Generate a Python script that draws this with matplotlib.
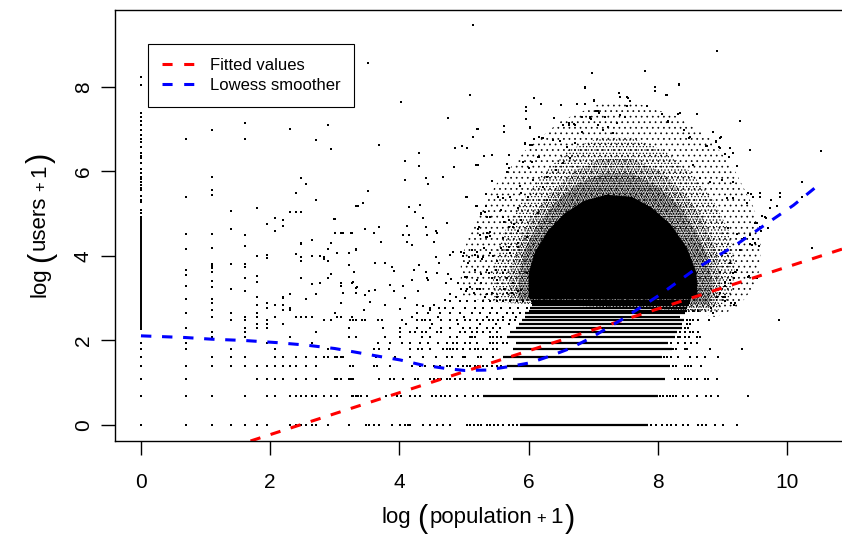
import matplotlib.pyplot as plt
import matplotlib.transforms as mtransforms
import numpy as np
from matplotlib.lines import Line2D

plt.rcParams['font.family'] = ['Liberation Sans', 'DejaVu Sans']
plt.rcParams['hatch.linewidth'] = 0.5

# x = log(population + 1), y = log(users + 1)

# dense runs of points along the lowest users levels
streak_users = list(range(21))
streak_start = [5.87, 5.30, 5.76, 5.66, 5.61, 5.76, 5.80, 5.66, 5.72, 5.80, 5.85,
                5.90, 5.95, 5.95, 6.00, 6.02, 6.05, 6.05, 6.05, 6.02, 6.00]
streak_end = [7.85, 8.00, 8.11, 8.19, 8.06, 8.22, 8.16, 8.27, 8.30, 8.37, 8.38,
              8.40, 8.35, 8.42, 8.45, 8.45, 8.48, 8.50, 8.50, 8.52, 8.55]

# outlines of the cloud, from the saturated core out to the sparse edge
core_x = [6.00, 6.00, 6.10, 6.30, 6.55, 6.85, 7.20, 7.60, 7.90, 8.20, 8.45, 8.60, 8.62]
core_y = [3.00, 3.60, 4.10, 4.60, 5.00, 5.30, 5.45, 5.40, 5.15, 4.75, 4.20, 3.60, 3.00]
ring1_x = [5.85, 5.85, 5.95, 6.15, 6.40, 6.75, 7.15, 7.60, 8.00, 8.35, 8.60, 8.78, 8.85, 8.80]
ring1_y = [2.95, 3.60, 4.20, 4.75, 5.25, 5.70, 5.95, 5.95, 5.65, 5.15, 4.55, 3.95, 3.35, 2.85]
ring2_x = [5.70, 5.70, 5.85, 6.05, 6.35, 6.70, 7.10, 7.60, 8.05, 8.40, 8.70, 8.90, 8.98, 8.92, 8.70]
ring2_y = [2.90, 3.60, 4.30, 4.95, 5.50, 6.00, 6.30, 6.30, 6.00, 5.50, 4.90, 4.20, 3.50, 2.85, 2.70]
ring3_x = [5.45, 5.45, 5.60, 5.85, 6.20, 6.60, 7.10, 7.60, 8.10, 8.50, 8.85, 9.10, 9.20, 9.15, 8.90, 8.60]
ring3_y = [2.90, 3.70, 4.50, 5.20, 5.90, 6.50, 6.80, 6.80, 6.50, 6.00, 5.35, 4.60, 3.80, 3.10, 2.65, 2.70]
ring4_x = [4.95, 4.95, 5.15, 5.50, 5.95, 6.50, 7.10, 7.70, 8.30, 8.80, 9.20, 9.50, 9.60, 9.55, 9.25, 8.90, 8.60]
ring4_y = [3.00, 3.90, 4.80, 5.70, 6.50, 7.20, 7.60, 7.60, 7.30, 6.80, 6.00, 5.10, 4.20, 3.40, 2.80, 2.55, 2.65]

# population = 0 column
col0_y = [8.24, 8.05, 7.38, 7.30, 7.20, 7.10, 6.97, 6.86, 6.78, 6.70, 6.59, 6.43, 6.37,
          6.31, 6.19, 6.07, 5.97, 5.88, 5.82, 5.74, 5.68, 5.60, 5.55, 5.41, 5.33, 5.27,
          5.09, 5.01, 4.93]
col0_run = [2.25, 4.89]

# small populations: one column of points per value
low_cols_x = [0.69, 1.10, 1.39, 1.61, 1.79, 1.95, 2.08, 2.20, 2.30, 2.40, 2.48, 2.56, 2.64,
              2.71, 2.77, 2.83, 2.89, 2.94, 3.00, 3.04, 3.09, 3.13, 3.22, 3.26, 3.33]
low_cols_y = [
    [6.76, 5.39, 4.52, 4.17, 3.68, 3.55, 3.29, 2.98, 2.64, 2.30, 1.95, 1.79, 1.39, 1.10, 0.69, 0],
    [6.98, 5.88, 5.56, 5.44, 4.52, 4.20, 3.82, 3.77, 3.72, 3.63, 3.40, 3.27, 2.98, 2.89, 2.71,
     2.56, 2.20, 2.08, 1.61, 1.39, 0.69, 0],
    [5.07, 4.65, 3.81, 3.21, 2.64, 2.48, 1.79, 1.61, 1.39, 0],
    [7.14, 6.76, 4.50, 4.24, 3.80, 3.75, 3.47, 3.17, 2.56, 2.48, 2.30, 2.20, 2.08, 1.61, 1.39, 0.69, 0],
    [5.13, 4.01, 3.53, 3.39, 3.04, 2.83, 2.64, 2.56, 2.40, 2.30, 1.39, 1.10, 0],
    [4.76, 4.02, 3.96, 2.89, 2.77, 2.48, 2.40, 2.30, 1.95, 1.39, 1.10, 0.69, 0],
    [4.89, 4.58, 2.83, 2.56, 1.79, 1.61, 1.39, 1.10, 0.69],
    [4.85, 4.71, 3.04, 3.00, 2.83, 2.71, 2.40, 1.61, 1.39, 1.10],
    [7.00, 5.03, 3.09, 2.77, 2.71, 2.08, 1.39, 0.69, 0],
    [5.48, 5.03, 4.05, 2.56, 1.61, 1.39, 1.10, 0.69, 0],
    [5.84, 5.03, 4.31, 4.28, 3.97, 3.89, 3.47, 2.56, 0.69, 0],
    [5.70, 2.98, 2.56, 1.61, 1.39, 1.10, 0.69, 0],
    [4.38, 4.00, 3.33, 2.56, 1.95, 0.69, 0],
    [6.74, 5.33, 3.09, 2.20, 1.61, 1.39, 1.10, 0.69, 0],
    [4.00, 3.37],
    [3.97, 3.93, 2.48, 1.61, 0.69],
    [7.10, 4.16, 3.89, 3.47, 1.79, 1.61, 0],
    [6.54, 4.30, 3.58, 2.48, 0.69],
    [4.88, 4.54, 2.64, 1.61, 1.10],
    [4.06, 2.56, 1.61, 1.10, 0.69],
    [4.55, 3.37, 3.30, 2.89, 2.56, 1.61, 1.10],
    [4.55, 3.13, 1.61],
    [4.08, 3.78, 2.30, 2.08, 1.10, 0],
    [8.36, 4.55, 3.37, 2.56, 1.10, 0.69],
    [5.18, 4.16, 3.24, 3.13, 2.48, 2.08, 0.69],
]

# isolated points on the users levels (users count, populations)
level_users = [0, 1, 2, 3, 4, 5, 6, 7, 8, 9, 10, 11, 12, 13, 14, 15, 18]
level_x = [
    [0, 3.49, 3.53, 3.60, 3.69, 3.88, 4.01, 4.08, 4.14, 4.17, 4.37, 4.47, 4.58, 4.68, 4.78,
     5.04, 5.09, 5.15, 5.22, 5.27, 5.35, 5.40, 5.46, 5.53, 5.61, 5.69, 5.76, 5.82,
     7.90, 7.98, 8.06, 8.14, 8.21, 8.29, 8.39, 8.47, 8.63, 8.68, 8.75, 8.88, 9.01, 9.22],
    [0, 3.28, 3.36, 3.40, 3.50, 3.80, 3.96, 4.02, 4.16, 4.24, 4.32, 4.51, 4.57, 4.65, 4.71,
     4.78, 4.89, 5.01, 5.14, 5.22, 8.03, 8.08, 8.14, 8.19, 8.24, 8.29, 8.39, 8.47, 8.60,
     8.75, 8.83, 8.93, 9.40],
    [0, 3.24, 3.29, 3.69, 3.85, 3.91, 4.06, 4.24, 4.29, 4.47, 4.53, 4.60, 4.65, 4.73, 4.78,
     4.86, 4.94, 5.01, 5.14, 5.20, 5.25, 5.30, 5.40, 5.51, 5.61, 8.27, 8.32, 8.42, 8.47,
     8.52, 8.60, 8.73, 8.78, 8.92],
    [0, 3.24, 3.29, 3.61, 3.65, 3.85, 4.19, 4.32, 4.40, 4.53, 4.63, 4.73, 4.78, 4.91, 4.99,
     5.04, 5.09, 5.17, 5.22, 5.30, 5.36, 5.43, 5.51, 5.58, 8.24, 8.29, 8.42, 8.47, 8.52, 8.67],
    [0, 3.64, 3.93, 4.16, 4.37, 4.57, 4.73, 4.81, 4.99, 5.01, 5.22, 5.27, 5.45,
     8.10, 8.14, 8.21, 8.32, 8.50, 8.60, 8.73, 8.93],
    [0, 3.60, 3.69, 3.84, 4.16, 4.29, 4.35, 4.47, 4.67, 4.73, 4.78, 4.83, 4.89, 4.99, 5.09,
     5.17, 5.22, 5.30, 5.35, 5.45, 5.51, 8.24, 8.29, 8.42, 8.45, 8.81, 9.31],
    [0, 3.67, 3.85, 4.04, 4.16, 4.32, 4.45, 4.60, 4.73, 4.83, 4.89, 5.01, 5.09, 5.20, 5.40,
     5.45, 5.51, 5.61, 5.66, 8.21, 8.32, 8.42, 8.52, 8.61],
    [3.78, 4.01, 4.35, 4.47, 4.78, 4.89, 5.09, 5.12, 5.17, 5.40, 5.45, 5.51, 5.58,
     8.32, 8.34, 8.42, 8.49, 8.60, 8.65],
    [4.01, 4.16, 4.24, 4.35, 4.42, 4.58, 4.65, 4.94, 5.01, 5.12, 5.20, 5.30, 5.40, 5.51,
     8.34, 8.42, 8.50, 8.55, 8.63],
    [3.75, 4.01, 4.27, 4.47, 4.65, 4.78, 4.99, 5.09, 5.20, 5.35, 5.45, 5.56, 8.42, 8.47],
    [4.10, 4.50, 4.90, 5.25, 5.50, 5.70, 8.45, 8.50],
    [3.24, 3.29, 3.42, 3.47, 3.67, 3.73, 4.04, 4.27, 4.35, 4.40, 4.47, 4.65, 4.78, 4.89,
     5.01, 5.09, 5.20, 5.30, 5.38, 5.45, 5.53, 5.61, 5.71, 5.79, 8.45, 8.50, 8.55, 8.62],
    [4.20, 4.60, 5.00, 5.35, 5.60, 5.80],
    [4.27, 4.45, 4.63, 4.78, 4.94, 5.12, 5.25, 5.40, 5.51, 5.66, 5.76, 5.87],
    [8.55, 8.62],
    [4.47, 4.71, 4.83, 5.01, 5.17, 5.30, 5.43, 5.58, 5.71, 5.84, 5.97],
    [4.78, 4.94, 5.04, 5.17, 5.30, 5.40, 5.51, 5.61, 5.71, 5.82, 5.92, 6.05],
]

# scattered points between x = 3.2 and 6 above the levels
mid_pts = [
    (3.25, 4.55), (3.47, 4.65), (3.61, 4.54), (3.69, 4.69), (4.12, 4.71), (4.15, 4.50),
    (4.06, 4.50), (4.41, 4.69), (4.43, 4.50), (4.57, 4.60), (4.59, 4.54), (4.73, 4.77),
    (5.22, 4.65), (5.35, 4.55), (5.40, 4.47), (5.25, 4.50), (5.34, 4.46), (5.62, 4.81),
    (5.70, 4.68), (5.77, 4.76), (5.84, 4.58), (5.89, 4.85), (3.71, 4.32), (4.12, 4.32),
    (4.19, 4.26), (4.53, 4.34), (3.33, 4.14), (3.62, 3.83), (3.78, 3.84), (3.89, 3.75),
    (3.91, 3.65), (4.22, 3.68), (4.31, 3.79), (4.42, 3.63), (4.57, 3.98), (4.62, 3.84),
    (4.78, 4.03), (4.83, 4.10), (4.95, 4.09), (4.99, 4.00), (5.08, 3.97), (5.17, 4.03),
    (5.20, 4.09), (5.28, 3.92), (5.31, 4.18), (5.40, 4.06), (5.45, 4.00), (5.57, 4.18),
    (5.66, 4.13), (5.70, 4.22), (5.84, 4.30), (3.28, 3.39), (3.34, 3.27), (3.47, 3.08),
    (3.53, 3.18), (3.62, 3.20), (3.86, 3.31), (3.91, 3.18), (4.06, 3.29), (4.20, 3.43),
    (4.29, 3.18), (4.43, 3.49), (4.45, 3.42), (4.58, 3.59), (4.76, 3.57), (4.80, 3.45),
    (4.72, 3.37), (4.90, 3.37), (5.05, 3.51), (5.20, 3.42), (5.27, 3.57), (5.35, 3.68),
    (5.43, 3.49), (5.50, 3.67), (5.60, 3.60), (5.66, 3.48), (3.30, 3.63), (3.45, 2.72),
    (3.55, 2.90), (3.78, 2.84), (4.01, 2.74), (4.09, 3.00), (4.27, 2.84), (4.36, 2.82),
    (4.47, 2.72), (4.54, 2.84), (4.61, 2.76), (4.71, 2.96), (4.78, 3.10), (4.87, 3.02),
    (4.95, 3.21), (5.03, 3.16), (5.10, 3.27), (5.16, 3.12), (5.25, 3.23), (5.33, 3.02),
    (5.43, 3.13), (5.51, 3.04), (5.62, 3.21), (5.74, 3.12), (5.84, 3.16),
]

# sparse points in the upper part of the plot
upper_pts = [
    (0.69, 6.76), (3.36, 5.18), (2.99, 4.88),
    (5.14, 9.47), (3.52, 8.57), (4.03, 7.65), (5.10, 7.82), (4.76, 7.26), (3.69, 6.63),
    (5.20, 7.00), (5.14, 6.82), (5.62, 7.07), (5.62, 6.93), (4.97, 6.60), (5.04, 6.55),
    (4.86, 6.55), (4.30, 6.44), (4.09, 6.24), (4.30, 6.14), (4.84, 6.11), (5.19, 6.16),
    (5.31, 6.37), (5.43, 6.38), (5.70, 6.38), (4.09, 5.79), (4.41, 5.85), (4.44, 5.71),
    (4.67, 5.86), (3.52, 5.54), (3.43, 5.25), (4.15, 5.15), (4.24, 5.03), (4.32, 5.21),
    (4.37, 4.89), (5.04, 5.39), (5.34, 5.46), (5.43, 5.78), (5.19, 5.19), (5.34, 5.19),
    (5.27, 4.99), (5.33, 5.05), (5.67, 6.18), (5.67, 5.99), (5.96, 7.52), (5.96, 7.44),
    (5.96, 7.24), (6.09, 7.74), (6.19, 7.60), (6.02, 7.04), (5.95, 6.65), (6.05, 6.62),
    (6.08, 6.76), (6.21, 6.80), (6.16, 6.34), (6.50, 7.57), (6.75, 7.60), (6.88, 7.59),
    (6.98, 8.32), (6.87, 7.97), (7.01, 7.68), (6.40, 7.26), (6.53, 7.10), (6.62, 7.10),
    (6.71, 7.12), (6.83, 7.30), (6.97, 7.25), (6.87, 7.99), (6.20, 7.60), (7.05, 7.42),
    (6.03, 7.05), (5.21, 7.00), (6.63, 7.14), (6.72, 7.10), (6.82, 6.94), (6.95, 7.30),
    (7.08, 7.10), (7.16, 6.98), (7.23, 7.06), (7.31, 6.90), (7.37, 7.14), (5.95, 6.67),
    (6.02, 6.63), (6.16, 6.81), (6.23, 6.79), (6.38, 6.75), (6.49, 6.71), (6.60, 6.59),
    (6.72, 6.67), (5.21, 6.15), (5.69, 6.08), (6.00, 6.08), (5.91, 6.23), (6.05, 6.23),
    (6.15, 6.34), (5.43, 5.78), (5.03, 5.39), (5.34, 5.47), (5.20, 5.18), (5.53, 5.39),
    (5.61, 5.37), (5.71, 5.39), (5.87, 5.66), (5.89, 5.48), (5.57, 5.10), (5.27, 5.02),
    (5.35, 4.92), (5.41, 4.92), (5.61, 4.92), (5.69, 4.85), (5.24, 4.69), (5.35, 4.46),
    (5.41, 4.57), (5.00, 4.08), (5.12, 4.13), (5.07, 3.84), (5.21, 3.97), (5.30, 3.97),
    (5.17, 3.67), (5.02, 3.51), (5.38, 3.59), (5.26, 3.37), (5.05, 3.23), (5.20, 3.23),
    (5.35, 3.10), (6.07, 5.80), (6.23, 5.64), (5.99, 5.39), (6.28, 5.88), (6.43, 6.04),
    (6.54, 6.19), (6.64, 6.31), (6.28, 5.33), (6.15, 5.01), (5.84, 5.13), (5.76, 4.69),
    (5.97, 4.46), (5.84, 4.22), (5.61, 4.42), (5.71, 4.06), (5.51, 3.87), (5.64, 3.67),
    (5.51, 3.43), (5.76, 3.35), (5.66, 3.12), (5.89, 3.20), (5.97, 3.59),
]

# sparse points right of the cloud
right_pts = [
    (8.33, 8.06), (7.96, 7.91), (8.14, 7.81), (7.40, 7.85), (7.52, 7.76), (7.53, 7.55),
    (7.84, 7.55), (8.06, 7.36), (8.32, 7.36), (8.60, 7.36), (8.34, 7.39), (7.41, 7.34),
    (7.49, 7.28), (8.16, 7.18), (9.28, 7.20), (8.40, 6.98), (8.85, 6.94), (8.50, 6.81),
    (8.98, 6.81), (8.90, 6.71), (8.76, 6.60), (9.43, 6.51), (8.96, 6.55), (9.12, 6.55),
    (9.10, 6.35), (8.55, 6.15), (8.65, 5.84), (8.81, 5.76), (8.99, 5.80), (9.23, 6.13),
    (9.16, 5.76), (9.39, 5.48), (9.07, 5.37), (9.17, 5.37), (9.38, 5.25), (9.48, 5.39),
    (9.59, 5.48), (9.66, 4.93), (9.53, 4.77), (9.09, 4.66), (9.22, 4.52), (9.32, 4.40),
    (9.43, 4.28), (9.56, 4.24), (9.27, 4.14), (9.04, 4.06), (9.12, 3.83), (9.19, 3.63),
    (8.96, 3.63), (9.12, 3.43), (9.40, 3.51), (9.53, 3.47), (9.04, 3.04), (9.19, 2.88),
    (8.96, 3.12), (8.92, 8.86), (7.81, 8.37), (6.98, 8.32), (7.96, 8.00), (8.13, 7.82),
    (8.33, 8.05), (7.41, 7.76), (7.54, 7.75), (7.57, 7.68), (7.01, 7.70), (7.84, 7.54),
    (8.16, 7.19), (7.07, 7.42), (7.09, 7.38), (7.19, 7.30), (6.95, 7.26), (7.42, 7.33),
    (8.49, 6.80), (8.90, 6.70), (8.97, 6.80), (10.52, 6.49), (8.75, 6.60), (8.95, 6.58),
    (9.04, 6.41), (9.17, 6.43), (9.22, 6.14), (9.17, 5.75), (9.90, 5.50), (9.90, 5.40),
    (10.24, 5.75), (10.24, 5.40), (9.58, 5.40), (9.76, 5.33), (9.45, 5.46), (9.84, 5.19),
    (9.73, 5.13), (9.61, 4.95), (9.67, 4.89), (10.38, 4.20), (9.87, 2.48), (9.30, 1.79),
    (9.51, 4.79), (9.59, 4.69), (9.60, 4.59), (9.71, 4.66), (9.41, 3.53), (9.18, 3.47),
    (9.04, 3.39), (9.04, 3.29), (9.17, 3.59), (9.22, 3.67), (9.51, 4.30), (9.46, 4.26),
    (9.33, 4.42), (9.43, 4.50), (9.48, 4.40), (8.91, 3.04), (9.01, 3.04), (9.04, 2.94),
    (9.14, 2.89), (9.18, 2.83), (8.83, 2.76), (8.86, 2.64), (8.80, 2.49),
]

# linear fit and lowess curve
fit_intercept = -1.22
fit_slope = 0.496
lowess_x = [0, 0.69, 1.10, 1.60, 2.10, 2.56, 3.00, 3.37, 3.70, 4.01, 4.35, 4.71, 5.01,
            5.35, 5.69, 6.02, 6.33, 6.64, 6.95, 7.47, 8.03, 8.60, 9.17, 9.69, 10.10, 10.52]
lowess_y = [2.11, 2.07, 2.03, 2.00, 1.95, 1.89, 1.81, 1.71, 1.62, 1.54, 1.42, 1.34, 1.29,
            1.30, 1.38, 1.47, 1.63, 1.81, 2.05, 2.52, 3.08, 3.71, 4.22, 4.77, 5.20, 5.72]

W, H = 842, 541
fig = plt.figure(figsize=(W / 100, H / 100), dpi=100)
ax = fig.add_axes([115 / W, 100 / H, 731 / W, 431 / H])
ax.set_xlim(-0.402, 10.914)
ax.set_ylim(-0.379, 9.822)

dot = dict(ls='none', marker='s', ms=1.5, mew=0, color='black')

# the cloud: dot hatches getting denser towards the centre
for rx, ry, h in [(ring4_x, ring4_y, '...'), (ring3_x, ring3_y, '.....'),
                  (ring2_x, ring2_y, '.......'), (ring1_x, ring1_y, '..........')]:
    ax.fill(rx, ry, facecolor='none', edgecolor='black', hatch=h, linewidth=0)
ax.fill(core_x, core_y, color='black', linewidth=0)

ax.hlines(np.log1p(streak_users), streak_start, streak_end, color='black', lw=1.6)
ax.vlines(0, col0_run[0], col0_run[1], color='black', lw=1.4)
ax.plot(np.zeros(len(col0_y)), col0_y, **dot)
for cx, cy in zip(low_cols_x, low_cols_y):
    ax.plot(np.full(len(cy), cx), cy, **dot)
for u, xs in zip(level_users, level_x):
    ax.plot(xs, np.full(len(xs), np.log1p(u)), **dot)
for pts in (mid_pts, upper_pts, right_pts):
    px, py = np.array(pts).T
    ax.plot(px, py, **dot)

dash = (3.4, 3.5)
ax.axline((0, fit_intercept), slope=fit_slope, color='#ff0000', lw=2.2, dashes=dash)
ax.plot(lowess_x, lowess_y, color='#0000ff', lw=2.2, dashes=dash)

for s in ax.spines.values():
    s.set_linewidth(1.0)
ax.set_xticks([0, 2, 4, 6, 8, 10])
ax.set_yticks([0, 2, 4, 6, 8])
ax.tick_params(direction='out', length=10, width=1.0, labelsize=15)
ax.tick_params(axis='x', pad=13)
ax.tick_params(axis='y', pad=6)
for t in ax.get_yticklabels():
    t.set_rotation(90)
    t.set_va('center')

handles = [Line2D([], [], color='#ff0000', lw=2.2, dashes=(3.3, 3.8)),
           Line2D([], [], color='#0000ff', lw=2.2, dashes=(3.3, 3.8))]
leg = ax.legend(handles, ['Fitted values', 'Lowess smoother'], loc='upper left',
                bbox_to_anchor=(0.045, 0.921), borderaxespad=0, fontsize=12,
                fancybox=False, edgecolor='black', framealpha=1, handlelength=2.0,
                handletextpad=0.85, borderpad=0.85, labelspacing=0.3)
leg.get_frame().set_linewidth(0.8)


def piece_label(parts, center, base, vertical):
    # lay out label pieces one after another, in pixels
    r = fig.canvas.get_renderer()
    items = []
    total = 0
    for s, size, shift, gap in parts:
        t = fig.text(0, 0, s, fontsize=size, rotation=90 if vertical else 0,
                     rotation_mode='anchor', ha='left', va='baseline',
                     transform=mtransforms.IdentityTransform())
        bb = t.get_window_extent(r)
        items.append((t, total, shift))
        total += (bb.height if vertical else bb.width) + gap
    total -= parts[-1][3]
    for t, off, shift in items:
        if vertical:
            t.set_position((base + shift, center - total / 2 + off))
        else:
            t.set_position((center - total / 2 + off, base - shift))


xlab = [('log', 16, 0, 6), ('(', 22, 4, 2), ('population', 16, 0, 4),
        ('+', 12, 0, 4), ('1', 16, 0, 2), (')', 22, 4, 0)]
ylab = [('log', 16, 0, 6), ('(', 22, 4, 2), ('users', 16, 0, 4),
        ('+', 12, 0, 4), ('1', 16, 0, 2), (')', 22, 4, 0)]
piece_label(xlab, 478, H - 523, False)
piece_label(ylab, H - 225, 45, True)

fig.savefig('out.png', dpi=100)
